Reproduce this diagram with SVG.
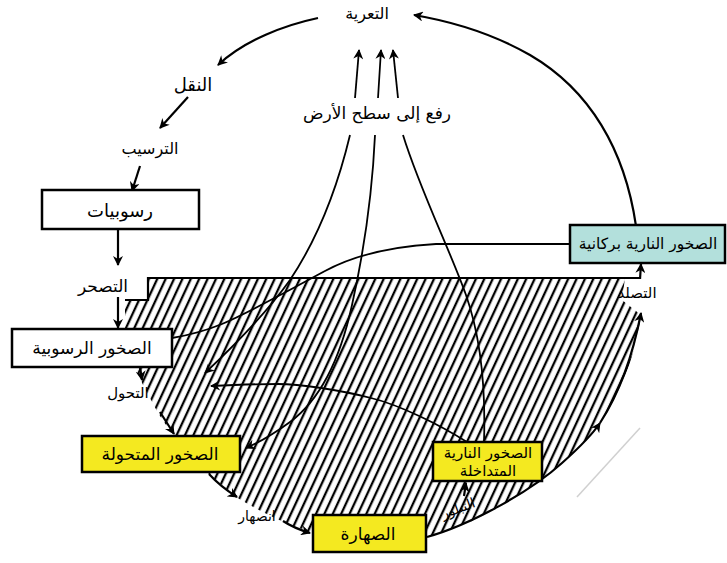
<svg xmlns="http://www.w3.org/2000/svg" width="727" height="563" viewBox="0 0 727 563">
<style>
.t{font-family:"DejaVu Sans","Noto Sans",sans-serif;fill:#000;text-anchor:middle;dominant-baseline:central}
.box{stroke:#000;stroke-width:2.5}
.y{fill:#f4e920}
.w{fill:#fff}
.cy{fill:#b3e0dc}
.c{fill:none;stroke:#000;stroke-width:2.2;marker-end:url(#ah)}
.l{fill:none;stroke:#000;stroke-width:1.8}
.la{fill:none;stroke:#000;stroke-width:1.8;marker-end:url(#ah)}
</style>
<defs>
<pattern id="hatch" width="7.6" height="8" patternUnits="userSpaceOnUse" patternTransform="rotate(25)">
<rect width="7.6" height="8" fill="#fff"/>
<line x1="2" y1="-1" x2="2" y2="9" stroke="#000" stroke-width="2.3"/>
</pattern>
<marker id="ah" viewBox="0 0 10 10" refX="9" refY="5" markerWidth="11" markerHeight="10" markerUnits="userSpaceOnUse" orient="auto">
<path d="M0,0 L10,5 L0,10 L3,5 Z" fill="#000"/>
</marker>
</defs>
<rect width="727" height="563" fill="#fff"/>

<g id="crust">
<path d="M148,278 L625,278 L622,300 L641,315 C636,352 622,392 600,423 C575,457 530,493 470,522 L427,537 L311,532 C290,526 260,512 236,497 L209,474 L172,434 L158,413 L143,385 L135,367 L125,330 L125,300 L148,300 Z" fill="url(#hatch)"/>
<path d="M125,300 L148,300 L148,278 L640,278" fill="none" stroke="#000" stroke-width="2.2"/>
</g>

<g id="connectors">
<path class="c" d="M318,18 C285,25 245,40 218,65"/>
<path class="c" d="M188,97 L160,128"/>
<path class="c" d="M140,166 L132,191"/>
<path class="c" d="M118,230 L118,265"/>
<path class="c" d="M118,297 L118,328"/>
<path class="c" d="M140,367 L142,380"/>
<path class="c" d="M160,412 L174,434"/>
<path class="c" d="M209,474 C218,484 226,490 237,497"/>
<path class="c" d="M283,521 C292,527 300,530 310,533"/>
<path class="c" d="M427,537 C470,525 530,492 562,463 C580,447 592,435 600,423"/>
<path class="c" d="M600,423 C618,395 632,360 641,313"/>
<path class="c" d="M640,279 L641,264"/>
<path class="c" d="M464,496 L466,483"/>
<path class="c" d="M636,226 C625,150 590,90 530,55 C495,35 455,22 414,15"/>
<path class="la" d="M355,98 L359,50"/>
<path class="la" d="M378,98 L381,50"/>
<path class="la" d="M398,98 L393,50"/>
<path class="l" d="M570,244 L436,244 C400,246 360,252 325,271 C290,290 250,312 222,324 C205,331 190,335 172,338"/>
<path class="la" d="M350,135 C338,185 320,235 290,280 C265,315 235,345 205,373"/>
<path class="la" d="M375,135 C372,200 362,260 352,305 C340,360 320,400 290,422 C275,433 260,442 246,448"/>
<path class="l" d="M403,135 C420,190 450,250 466,295 C480,335 486,380 484,442"/>
<path class="la" d="M467,442 C440,425 400,405 371,398 C340,390 300,384 278,384 C250,384 230,385 211,386"/>
<path d="M577,497 L640,428" fill="none" stroke="#d0d0d0" stroke-width="1.5"/>
</g>

<g id="node-sediments">
<rect class="box w" x="42" y="190" width="157" height="39"/>
<text class="t" x="120" y="210" font-size="18">رسوبيات</text>
</g>
<g id="node-sedimentary-rocks">
<rect class="box w" x="12" y="329" width="160" height="38"/>
<text class="t" x="92" y="348" font-size="17">الصخور الرسوبية</text>
</g>
<g id="node-metamorphic-rocks">
<rect class="box y" x="82" y="436" width="158" height="36"/>
<text class="t" x="160" y="454" font-size="17">الصخور المتحولة</text>
</g>
<g id="node-magma">
<rect class="box y" x="313" y="515" width="113" height="37"/>
<text class="t" x="368" y="534" font-size="17">الصهارة</text>
</g>
<g id="node-intrusive-igneous">
<rect class="box y" x="433" y="442" width="109" height="39"/>
<text class="t" x="488" y="453" font-size="15">الصخور النارية</text>
<text class="t" x="488" y="471" font-size="15">المتداخلة</text>
</g>
<g id="node-volcanic-igneous">
<rect class="box cy" x="570" y="225" width="155" height="38"/>
<text class="t" x="648" y="244" font-size="15.5">الصخور النارية بركانية</text>
</g>

<g id="labels">
<text class="t" x="367" y="13" font-size="16">التعرية</text>
<text class="t" x="193" y="84" font-size="18">النقل</text>
<text class="t" x="150" y="148" font-size="16">الترسيب</text>
<text class="t" x="103" y="286" font-size="17">التصحر</text>
<text class="t" x="128" y="393" font-size="15">التحول</text>
<text class="t" x="257" y="516" font-size="14">انصهار</text>
<text class="t" x="458" y="508" font-size="14" transform="rotate(-20 458 508)">التبلور</text>
<text class="t" x="637" y="293" font-size="15">التصلد</text>
<text class="t" x="377" y="113" font-size="17">رفع إلى سطح الأرض</text>
</g>
</svg>
